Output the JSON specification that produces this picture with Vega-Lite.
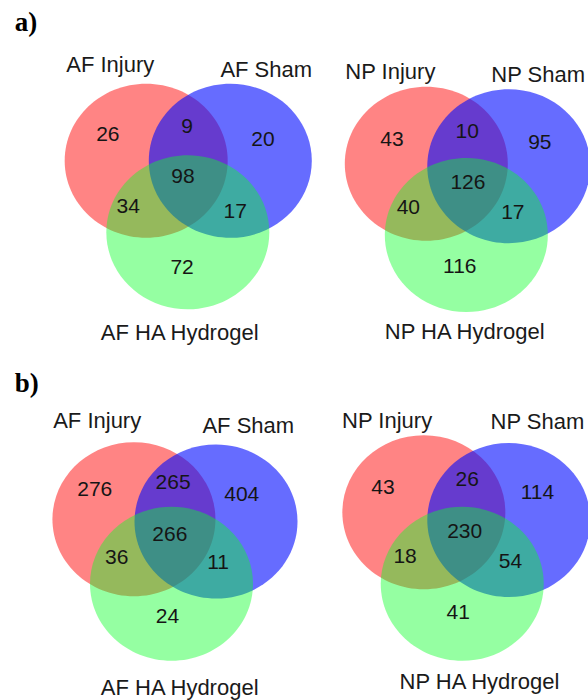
{
  "$schema": "https://vega.github.io/schema/vega-lite/v6.json",
  "padding": 0,
  "background": "white",
  "spacing": 0,
  "config": {"view": {"stroke": null}, "concat": {"spacing": 0}},
  "datasets": {
    "venn": [
      {"panel": "aAF", "kind": "circle", "set": "Injury", "x": -0.01, "y": 0.21},
      {"panel": "aAF", "kind": "circle", "set": "Sham", "x": 1.02, "y": 0.21},
      {"panel": "aAF", "kind": "circle", "set": "HA Hydrogel", "x": 0.50, "y": -0.72},
      {"panel": "aAF", "kind": "count", "n": 26, "x": -0.48, "y": 0.55},
      {"panel": "aAF", "kind": "count", "n": 9, "x": 0.49, "y": 0.65},
      {"panel": "aAF", "kind": "count", "n": 20, "x": 1.42, "y": 0.48},
      {"panel": "aAF", "kind": "count", "n": 98, "x": 0.44, "y": 0.0},
      {"panel": "aAF", "kind": "count", "n": 34, "x": -0.23, "y": -0.39},
      {"panel": "aAF", "kind": "count", "n": 17, "x": 1.08, "y": -0.46},
      {"panel": "aAF", "kind": "count", "n": 72, "x": 0.43, "y": -1.18},
      {"panel": "aAF", "kind": "label", "text": "AF Injury", "x": -0.45, "y": 1.46},
      {"panel": "aAF", "kind": "label", "text": "AF Sham", "x": 1.46, "y": 1.39},
      {"panel": "aAF", "kind": "label", "text": "AF HA Hydrogel", "x": 0.40, "y": -2.03},
      {"panel": "aAF", "kind": "tag", "text": "a)", "x": -1.62, "y": 1.90},

      {"panel": "aNP", "kind": "circle", "set": "Injury", "x": -0.18, "y": 0.17},
      {"panel": "aNP", "kind": "circle", "set": "Sham", "x": 0.83, "y": 0.14},
      {"panel": "aNP", "kind": "circle", "set": "HA Hydrogel", "x": 0.31, "y": -0.755},
      {"panel": "aNP", "kind": "count", "n": 43, "x": -0.60, "y": 0.48},
      {"panel": "aNP", "kind": "count", "n": 10, "x": 0.32, "y": 0.58},
      {"panel": "aNP", "kind": "count", "n": 95, "x": 1.21, "y": 0.44},
      {"panel": "aNP", "kind": "count", "n": 126, "x": 0.33, "y": -0.08},
      {"panel": "aNP", "kind": "count", "n": 40, "x": -0.40, "y": -0.40},
      {"panel": "aNP", "kind": "count", "n": 17, "x": 0.88, "y": -0.47},
      {"panel": "aNP", "kind": "count", "n": 116, "x": 0.23, "y": -1.17},
      {"panel": "aNP", "kind": "label", "text": "NP Injury", "x": -0.62, "y": 1.36},
      {"panel": "aNP", "kind": "label", "text": "NP Sham", "x": 1.19, "y": 1.33},
      {"panel": "aNP", "kind": "label", "text": "NP HA Hydrogel", "x": 0.29, "y": -2.02},

      {"panel": "bAF", "kind": "circle", "set": "Injury", "x": -0.16, "y": 0.10},
      {"panel": "bAF", "kind": "circle", "set": "Sham", "x": 0.845, "y": 0.07},
      {"panel": "bAF", "kind": "circle", "set": "HA Hydrogel", "x": 0.30, "y": -0.74},
      {"panel": "bAF", "kind": "count", "n": 276, "x": -0.64, "y": 0.48},
      {"panel": "bAF", "kind": "count", "n": 265, "x": 0.32, "y": 0.57},
      {"panel": "bAF", "kind": "count", "n": 404, "x": 1.16, "y": 0.42},
      {"panel": "bAF", "kind": "count", "n": 266, "x": 0.28, "y": -0.10},
      {"panel": "bAF", "kind": "count", "n": 36, "x": -0.37, "y": -0.40},
      {"panel": "bAF", "kind": "count", "n": 11, "x": 0.87, "y": -0.47},
      {"panel": "bAF", "kind": "count", "n": 24, "x": 0.25, "y": -1.17},
      {"panel": "bAF", "kind": "label", "text": "AF Injury", "x": -0.61, "y": 1.38},
      {"panel": "bAF", "kind": "label", "text": "AF Sham", "x": 1.24, "y": 1.31},
      {"panel": "bAF", "kind": "label", "text": "AF HA Hydrogel", "x": 0.40, "y": -2.09},
      {"panel": "bAF", "kind": "tag", "text": "b)", "x": -1.62, "y": 1.75},

      {"panel": "bNP", "kind": "circle", "set": "Injury", "x": -0.21, "y": 0.19},
      {"panel": "bNP", "kind": "circle", "set": "Sham", "x": 0.83, "y": 0.09},
      {"panel": "bNP", "kind": "circle", "set": "HA Hydrogel", "x": 0.26, "y": -0.74},
      {"panel": "bNP", "kind": "count", "n": 43, "x": -0.71, "y": 0.51},
      {"panel": "bNP", "kind": "count", "n": 26, "x": 0.32, "y": 0.61},
      {"panel": "bNP", "kind": "count", "n": 114, "x": 1.18, "y": 0.44},
      {"panel": "bNP", "kind": "count", "n": 230, "x": 0.29, "y": -0.07},
      {"panel": "bNP", "kind": "count", "n": 18, "x": -0.44, "y": -0.39},
      {"panel": "bNP", "kind": "count", "n": 54, "x": 0.85, "y": -0.46},
      {"panel": "bNP", "kind": "count", "n": 41, "x": 0.21, "y": -1.12},
      {"panel": "bNP", "kind": "label", "text": "NP Injury", "x": -0.66, "y": 1.38},
      {"panel": "bNP", "kind": "label", "text": "NP Sham", "x": 1.18, "y": 1.36},
      {"panel": "bNP", "kind": "label", "text": "NP HA Hydrogel", "x": 0.47, "y": -2.02}
    ]
  },
  "vconcat": [
    {"bounds": "flush", "spacing": 0, "hconcat": [
      {
        "width": 294, "height": 350,
        "data": {"name": "venn"},
        "transform": [{"filter": "datum.panel === 'aAF'"}],
        "encoding": {
          "x": {"field": "x", "type": "quantitative", "scale": {"domain": [-1.8, 1.8], "nice": false, "zero": false}, "axis": null},
          "y": {"field": "y", "type": "quantitative", "scale": {"domain": [-2.25, 2.3], "nice": false, "zero": false}, "axis": null}
        },
        "layer": [
          {"transform": [{"filter": "datum.kind === 'circle'"}],
           "mark": {"type": "point", "shape": "M -1 0 A 1 0.945 0 1 1 1 0 A 1 0.945 0 1 1 -1 0 Z", "size": 26569, "filled": true, "opacity": 1, "strokeWidth": 0},
           "encoding": {"color": {"field": "set", "type": "nominal", "scale": {"domain": ["Injury", "Sham", "HA Hydrogel"], "range": ["rgba(255,10,10,0.5)", "rgba(0,10,255,0.6)", "rgba(10,255,40,0.43)"]}, "legend": null}}},
          {"transform": [{"filter": "datum.kind === 'count'"}],
           "mark": {"type": "text", "font": "Liberation Sans", "fontSize": 21, "color": "#151515", "align": "center", "baseline": "middle"},
           "encoding": {"text": {"field": "n", "type": "quantitative"}}},
          {"transform": [{"filter": "datum.kind === 'label'"}],
           "mark": {"type": "text", "font": "Liberation Sans", "fontSize": 22, "color": "#1a1a1a", "align": "center", "baseline": "middle"},
           "encoding": {"text": {"field": "text", "type": "nominal"}}},
          {"transform": [{"filter": "datum.kind === 'tag'"}],
           "mark": {"type": "text", "font": "Liberation Serif", "fontWeight": "bold", "fontSize": 27, "color": "#000000", "align": "left", "baseline": "alphabetic"},
           "encoding": {"text": {"field": "text", "type": "nominal"}}}
        ]
      },
      {
        "width": 294, "height": 350,
        "data": {"name": "venn"},
        "transform": [{"filter": "datum.panel === 'aNP'"}],
        "encoding": {
          "x": {"field": "x", "type": "quantitative", "scale": {"domain": [-1.8, 1.8], "nice": false, "zero": false}, "axis": null},
          "y": {"field": "y", "type": "quantitative", "scale": {"domain": [-2.25, 2.3], "nice": false, "zero": false}, "axis": null}
        },
        "layer": [
          {"transform": [{"filter": "datum.kind === 'circle'"}],
           "mark": {"type": "point", "shape": "M -1 0 A 1 0.945 0 1 1 1 0 A 1 0.945 0 1 1 -1 0 Z", "size": 26569, "filled": true, "opacity": 1, "strokeWidth": 0},
           "encoding": {"color": {"field": "set", "type": "nominal", "scale": {"domain": ["Injury", "Sham", "HA Hydrogel"], "range": ["rgba(255,10,10,0.5)", "rgba(0,10,255,0.6)", "rgba(10,255,40,0.43)"]}, "legend": null}}},
          {"transform": [{"filter": "datum.kind === 'count'"}],
           "mark": {"type": "text", "font": "Liberation Sans", "fontSize": 21, "color": "#151515", "align": "center", "baseline": "middle"},
           "encoding": {"text": {"field": "n", "type": "quantitative"}}},
          {"transform": [{"filter": "datum.kind === 'label'"}],
           "mark": {"type": "text", "font": "Liberation Sans", "fontSize": 22, "color": "#1a1a1a", "align": "center", "baseline": "middle"},
           "encoding": {"text": {"field": "text", "type": "nominal"}}}
        ]
      }
    ]},
    {"bounds": "flush", "spacing": 0, "hconcat": [
      {
        "width": 294, "height": 350,
        "data": {"name": "venn"},
        "transform": [{"filter": "datum.panel === 'bAF'"}],
        "encoding": {
          "x": {"field": "x", "type": "quantitative", "scale": {"domain": [-1.8, 1.8], "nice": false, "zero": false}, "axis": null},
          "y": {"field": "y", "type": "quantitative", "scale": {"domain": [-2.25, 2.3], "nice": false, "zero": false}, "axis": null}
        },
        "layer": [
          {"transform": [{"filter": "datum.kind === 'circle'"}],
           "mark": {"type": "point", "shape": "M -1 0 A 1 0.945 0 1 1 1 0 A 1 0.945 0 1 1 -1 0 Z", "size": 26569, "filled": true, "opacity": 1, "strokeWidth": 0},
           "encoding": {"color": {"field": "set", "type": "nominal", "scale": {"domain": ["Injury", "Sham", "HA Hydrogel"], "range": ["rgba(255,10,10,0.5)", "rgba(0,10,255,0.6)", "rgba(10,255,40,0.43)"]}, "legend": null}}},
          {"transform": [{"filter": "datum.kind === 'count'"}],
           "mark": {"type": "text", "font": "Liberation Sans", "fontSize": 21, "color": "#151515", "align": "center", "baseline": "middle"},
           "encoding": {"text": {"field": "n", "type": "quantitative"}}},
          {"transform": [{"filter": "datum.kind === 'label'"}],
           "mark": {"type": "text", "font": "Liberation Sans", "fontSize": 22, "color": "#1a1a1a", "align": "center", "baseline": "middle"},
           "encoding": {"text": {"field": "text", "type": "nominal"}}},
          {"transform": [{"filter": "datum.kind === 'tag'"}],
           "mark": {"type": "text", "font": "Liberation Serif", "fontWeight": "bold", "fontSize": 27, "color": "#000000", "align": "left", "baseline": "alphabetic"},
           "encoding": {"text": {"field": "text", "type": "nominal"}}}
        ]
      },
      {
        "width": 294, "height": 350,
        "data": {"name": "venn"},
        "transform": [{"filter": "datum.panel === 'bNP'"}],
        "encoding": {
          "x": {"field": "x", "type": "quantitative", "scale": {"domain": [-1.8, 1.8], "nice": false, "zero": false}, "axis": null},
          "y": {"field": "y", "type": "quantitative", "scale": {"domain": [-2.25, 2.3], "nice": false, "zero": false}, "axis": null}
        },
        "layer": [
          {"transform": [{"filter": "datum.kind === 'circle'"}],
           "mark": {"type": "point", "shape": "M -1 0 A 1 0.945 0 1 1 1 0 A 1 0.945 0 1 1 -1 0 Z", "size": 26569, "filled": true, "opacity": 1, "strokeWidth": 0},
           "encoding": {"color": {"field": "set", "type": "nominal", "scale": {"domain": ["Injury", "Sham", "HA Hydrogel"], "range": ["rgba(255,10,10,0.5)", "rgba(0,10,255,0.6)", "rgba(10,255,40,0.43)"]}, "legend": null}}},
          {"transform": [{"filter": "datum.kind === 'count'"}],
           "mark": {"type": "text", "font": "Liberation Sans", "fontSize": 21, "color": "#151515", "align": "center", "baseline": "middle"},
           "encoding": {"text": {"field": "n", "type": "quantitative"}}},
          {"transform": [{"filter": "datum.kind === 'label'"}],
           "mark": {"type": "text", "font": "Liberation Sans", "fontSize": 22, "color": "#1a1a1a", "align": "center", "baseline": "middle"},
           "encoding": {"text": {"field": "text", "type": "nominal"}}}
        ]
      }
    ]}
  ]
}
